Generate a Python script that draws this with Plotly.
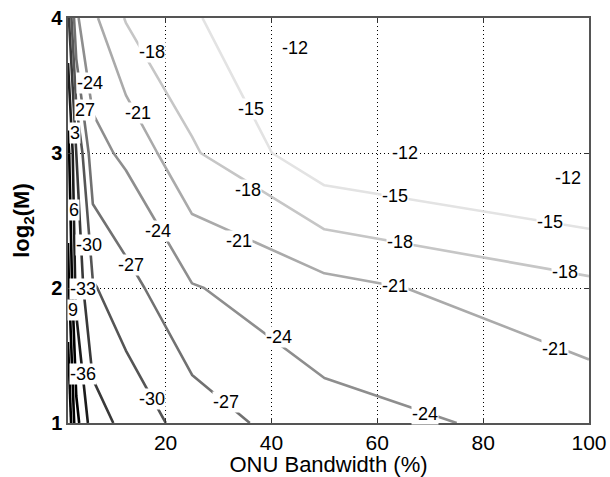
import plotly.graph_objects as go

# ONU bandwidth (%) grid and log2(M) grid
bandwidth = [1.5625, 3.125, 6.25, 12.5, 25, 50, 100]
log2M = [1, 2, 3, 4]

# values (dB) per row of log2(M)
z_m1 = [-48, -40, -34.3, -32.2, -28.55, -25, -23]
z_m2 = [-43, -35, -30.3, -28.1, -24.2, -22, -18.75]
z_m3 = [-40, -33, -25.0, -23.4, -18.36, -12.8, -10.2]
z_m4 = [-34, -24.4, -21.6, -17.8, -15.4, -10.3, -7]

x_ticks = [20, 40, 60, 80, 100]
y_ticks = [1, 2, 3, 4]

# contour-label placement: (level, shown text, search axis, fixed value)
# the other coordinate is solved from the data
label_specs = [
    (-12, "-12", "x", 44.5), (-12, "-12", "x", 65.3), (-12, "-12", "x", 96),
    (-15, "-15", "x", 36.1), (-15, "-15", "x", 63.4), (-15, "-15", "x", 92.6),
    (-18, "-18", "x", 17.5), (-18, "-18", "x", 35.5), (-18, "-18", "x", 64.3), (-18, "-18", "x", 95.5),
    (-21, "-21", "x", 14.7), (-21, "-21", "x", 33.8), (-21, "-21", "x", 63.4), (-21, "-21", "x", 93.6),
    (-24, "-24", "y", 3.52), (-24, "-24", "x", 18.5), (-24, "-24", "x", 41.5), (-24, "-24", "x", 69.1),
    (-27, "27", "y", 3.32), (-27, "-27", "x", 13.4), (-27, "-27", "x", 31.5),
    (-30, "-30", "y", 2.32), (-30, "-30", "x", 17.5),
    (-33, "3", "y", 3.15), (-33, "-33", "y", 1.99),
    (-36, "6", "y", 2.58), (-36, "-36", "y", 1.36),
    (-39, "9", "y", 1.84),
]

font_family = "Arial, Liberation Sans, Helvetica, sans-serif"
Z = [z_m1, z_m2, z_m3, z_m4]


def _interp1(xs, vals, x):
    for i in range(len(xs) - 1):
        if xs[i] <= x <= xs[i + 1]:
            t = (x - xs[i]) / (xs[i + 1] - xs[i])
            return vals[i] + t * (vals[i + 1] - vals[i])
    return vals[0] if x < xs[0] else vals[-1]


def zval(x, y):
    rows = [_interp1(bandwidth, r, x) for r in Z]
    return _interp1(log2M, rows, y)


def solve(level, axis, fixed):
    # scan the free coordinate for the first crossing of the level
    if axis == "x":
        lo, hi = log2M[0], log2M[-1]
        f = lambda v: zval(fixed, v) - level
    else:
        lo, hi = bandwidth[0], bandwidth[-1]
        f = lambda v: zval(v, fixed) - level
    n = 2000
    prev_v, prev_f = lo, f(lo)
    for k in range(1, n + 1):
        v = lo + (hi - lo) * k / n
        fv = f(v)
        if prev_f == 0 or prev_f * fv <= 0:
            a, b = prev_v, v
            for _ in range(50):
                m = 0.5 * (a + b)
                if f(a) * f(m) <= 0:
                    b = m
                else:
                    a = m
            return 0.5 * (a + b)
        prev_v, prev_f = v, fv
    return None


fig = go.Figure()
fig.add_trace(go.Contour(
    x=bandwidth, y=log2M, z=Z,
    zmin=-39, zmax=-11.5,
    colorscale=[[0, "#000000"], [1, "#ffffff"]],
    showscale=False,
    contours=dict(start=-60, end=-12, size=3, coloring="lines", showlabels=False),
    line=dict(width=2.6, smoothing=0),
    hoverinfo="skip",
))

annotations = []
for level, text, axis, fixed in label_specs:
    other = solve(level, axis, fixed)
    if other is None:
        continue
    lx, ly = (fixed, other) if axis == "x" else (other, fixed)
    annotations.append(dict(
        x=lx, y=ly, xref="x", yref="y", text=text, showarrow=False,
        font=dict(size=18, color="black", family=font_family),
        bgcolor="white", borderpad=0, xanchor="center", yanchor="middle",
    ))

axis_common = dict(
    showgrid=True, gridcolor="black", gridwidth=1, griddash="1px,3px",
    showline=True, linecolor="#555555", linewidth=1.5, mirror="ticks",
    ticks="inside", ticklen=5, tickcolor="#333333",
    zeroline=False, automargin=False,
)

fig.update_layout(
    width=610, height=477,
    margin=dict(l=68, r=21, t=18, b=54),
    paper_bgcolor="white", plot_bgcolor="white",
    font=dict(family=font_family, color="black"),
    annotations=annotations,
    xaxis=dict(range=[1.5625, 100], tickvals=x_ticks,
               tickfont=dict(size=21, color="black", family=font_family),
               title=dict(text="ONU Bandwidth (%)", font=dict(size=22)),
               **axis_common),
    yaxis=dict(range=[1, 4], tickvals=y_ticks,
               tickfont=dict(size=20, color="black", family=font_family, weight="bold"),
               title=dict(text="log<sub>2</sub>(M)", font=dict(size=22, weight="bold")),
               **axis_common),
)

fig.write_html("out.html")
